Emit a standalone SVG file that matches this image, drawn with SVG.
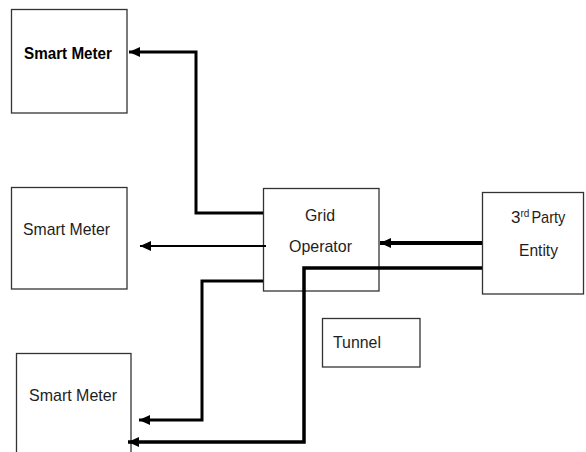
<svg xmlns="http://www.w3.org/2000/svg" width="586" height="452" viewBox="0 0 586 452">
<style>
.box{fill:#fff;stroke:#333;stroke-width:1.3}
.t{font-family:"Liberation Sans",Arial,sans-serif;font-size:17px;fill:#1e1e1e}
.b{font-weight:bold;fill:#000}
.c{fill:none;stroke:#000;stroke-linejoin:miter}
</style>
<defs>
<marker id="ah" markerUnits="userSpaceOnUse" markerWidth="12" markerHeight="12" viewBox="0 0 12 12" refX="11" refY="6" orient="auto">
<path d="M0,1 L11,6 L0,11 Z" fill="#000"/>
</marker>
</defs>
<rect width="586" height="452" fill="#fff"/>
<g id="sm1"><rect class="box" x="11.5" y="9.5" width="115.5" height="103.5"/><text class="t b" x="24" y="59" textLength="88" lengthAdjust="spacingAndGlyphs">Smart Meter</text></g>
<g id="sm2"><rect class="box" x="11.5" y="187.5" width="115.5" height="101.5"/><text class="t" x="23" y="235" textLength="87" lengthAdjust="spacingAndGlyphs">Smart Meter</text></g>
<g id="sm3"><rect class="box" x="16.5" y="353.5" width="114.5" height="110"/><text class="t" x="29" y="401" textLength="88" lengthAdjust="spacingAndGlyphs">Smart Meter</text></g>
<g id="grid"><rect class="box" x="263.5" y="188.5" width="115.5" height="102.5"/><text class="t" x="305" y="221" textLength="30" lengthAdjust="spacingAndGlyphs">Grid</text><text class="t" x="289" y="252" textLength="63" lengthAdjust="spacingAndGlyphs">Operator</text></g>
<g id="third"><rect class="box" x="482.5" y="192.5" width="101" height="101.5"/><text class="t" x="511" y="223">3<tspan font-size="10" dy="-6">rd</tspan><tspan dy="6" dx="2" textLength="34" lengthAdjust="spacingAndGlyphs">Party</tspan></text><text class="t" x="519" y="256" textLength="39" lengthAdjust="spacingAndGlyphs">Entity</text></g>
<g id="tunnel"><rect class="box" x="322.5" y="318.5" width="97.5" height="48.5"/><text class="t" x="333" y="348" textLength="48" lengthAdjust="spacingAndGlyphs">Tunnel</text></g>
<g id="connectors">
<polyline class="c" stroke-width="3" points="263,213 196,213 196,52 129,52" marker-end="url(#ah)"/>
<polyline class="c" stroke-width="2.2" points="266,246 140,246" marker-end="url(#ah)"/>
<polyline class="c" stroke-width="4" points="482,243 380,243" marker-end="url(#ah)"/>
<polyline class="c" stroke-width="3" points="263,281 202,281 202,420 139,420" marker-end="url(#ah)"/>
<polyline class="c" stroke-width="3.5" points="482,268 304,268 304,442 128,442" marker-end="url(#ah)"/>
</g>
</svg>
